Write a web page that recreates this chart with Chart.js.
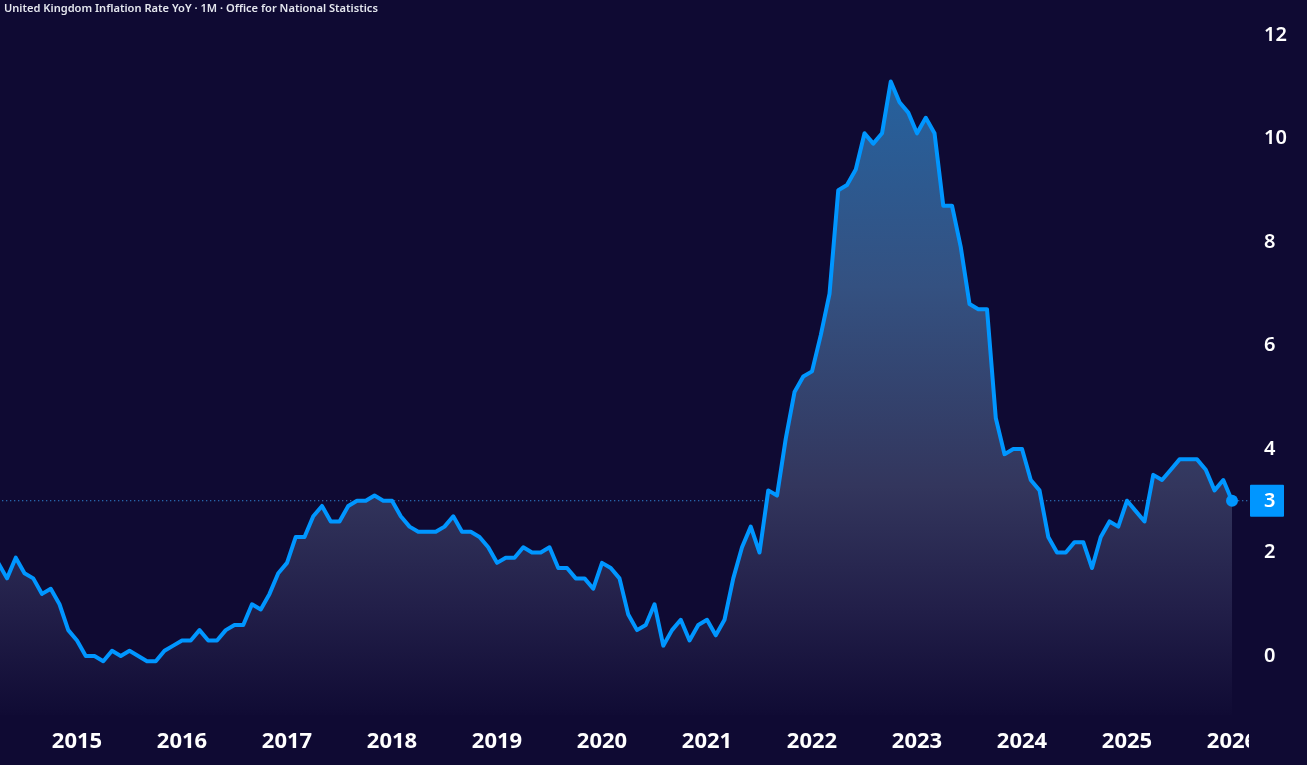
<!DOCTYPE html>
<html>
<head>
<meta charset="utf-8">
<title>United Kingdom Inflation Rate YoY</title>
<script src="https://cdn.jsdelivr.net/npm/chart.js@4"></script>
<style>
  html, body { margin: 0; padding: 0; background: #0f0a33; overflow: hidden; }
  canvas { display: block; }
</style>
</head>
<body>
<canvas id="inflationChart" width="1307" height="765"></canvas>
<script>
const chartTitle = 'United Kingdom Inflation Rate YoY · 1M · Office for National Statistics';

// monthly values, first point is Apr 2014
const values2014 = [1.8, 1.5, 1.9, 1.6, 1.5, 1.2, 1.3, 1.0, 0.5];
const values2015 = [0.3, 0.0, 0.0, -0.1, 0.1, 0.0, 0.1, 0.0, -0.1, -0.1, 0.1, 0.2];
const values2016 = [0.3, 0.3, 0.5, 0.3, 0.3, 0.5, 0.6, 0.6, 1.0, 0.9, 1.2, 1.6];
const values2017 = [1.8, 2.3, 2.3, 2.7, 2.9, 2.6, 2.6, 2.9, 3.0, 3.0, 3.1, 3.0];
const values2018 = [3.0, 2.7, 2.5, 2.4, 2.4, 2.4, 2.5, 2.7, 2.4, 2.4, 2.3, 2.1];
const values2019 = [1.8, 1.9, 1.9, 2.1, 2.0, 2.0, 2.1, 1.7, 1.7, 1.5, 1.5, 1.3];
const values2020 = [1.8, 1.7, 1.5, 0.8, 0.5, 0.6, 1.0, 0.2, 0.5, 0.7, 0.3, 0.6];
const values2021 = [0.7, 0.4, 0.7, 1.5, 2.1, 2.5, 2.0, 3.2, 3.1, 4.2, 5.1, 5.4];
const values2022 = [5.5, 6.2, 7.0, 9.0, 9.1, 9.4, 10.1, 9.9, 10.1, 11.1, 10.7, 10.5];
const values2023 = [10.1, 10.4, 10.1, 8.7, 8.7, 7.9, 6.8, 6.7, 6.7, 4.6, 3.9, 4.0];
const values2024 = [4.0, 3.4, 3.2, 2.3, 2.0, 2.0, 2.2, 2.2, 1.7, 2.3, 2.6, 2.5];
const values2025 = [3.0, 2.8, 2.6, 3.5, 3.4, 3.6, 3.8, 3.8, 3.8, 3.6, 3.2, 3.4];
const values2026 = [3.0];

const seriesValues = [].concat(values2014, values2015, values2016, values2017, values2018, values2019,
    values2020, values2021, values2022, values2023, values2024, values2025, values2026);

const yearLabels = ['2015', '2016', '2017', '2018', '2019', '2020', '2021', '2022', '2023', '2024', '2025', '2026'];
const yTicks = [0, 2, 4, 6, 8, 10, 12];

const bgColor = '#0f0a33';
const lineColor = '#0096ff';
const lastIndex = seriesValues.length - 1;
const lastValue = seriesValues[lastIndex];

const ctx = document.getElementById('inflationChart').getContext('2d');

const areaFill = ctx.createLinearGradient(0, 0, 0, 715);
areaFill.addColorStop(0.1, '#25629f');
areaFill.addColorStop(0.4, '#345181');
areaFill.addColorStop(0.68, '#33365d');
areaFill.addColorStop(0.85, '#221f49');
areaFill.addColorStop(1, '#100b34');

// no label margins around the plot, it runs from the canvas edges
const noPadding = scale => {
    scale.paddingLeft = scale.paddingRight = scale.paddingTop = scale.paddingBottom = 0;
};

// title, cut-off right side of the time axis and the last value badge
const overlayPlugin = {
    id: 'overlay',
    afterDraw(chart) {
        const c = chart.ctx;
        const y = chart.scales.y.getPixelForValue(lastValue);
        c.save();
        c.fillStyle = bgColor;
        c.fillRect(chart.chartArea.right, chart.chartArea.bottom, 60, 50);

        c.fillStyle = lineColor;
        c.beginPath();
        c.roundRect(chart.chartArea.right + 1, y - 16, 34, 32, 1);
        c.fill();

        c.fillStyle = '#ffffff';
        c.font = '600 20px "Noto Sans"';
        c.textAlign = 'left';
        c.textBaseline = 'middle';
        c.fillText(String(lastValue), 1264, y + 1);

        c.fillStyle = '#e4e6ee';
        c.font = '600 11.1px "Noto Sans"';
        c.textBaseline = 'alphabetic';
        c.fillText(chartTitle, 4, 12);
        c.restore();
    }
};

new Chart(ctx, {
    type: 'line',
    data: {
        datasets: [{
            data: seriesValues.map((v, i) => ({ x: i, y: v })),
            borderColor: lineColor,
            borderWidth: 4,
            borderJoinStyle: 'round',
            tension: 0,
            fill: 'start',
            backgroundColor: areaFill,
            pointBackgroundColor: lineColor,
            pointBorderWidth: 0,
            pointRadius: c => c.dataIndex === lastIndex ? 6 : 0
        }, {
            data: [{ x: 0, y: lastValue }, { x: lastIndex + 2, y: lastValue }],
            borderColor: '#3aa6ff',
            borderWidth: 1,
            borderDash: [1, 3],
            pointRadius: 0,
            fill: false
        }]
    },
    options: {
        responsive: false,
        animation: false,
        devicePixelRatio: 1,
        layout: { padding: 0, autoPadding: false },
        plugins: { legend: { display: false }, tooltip: { enabled: false } },
        scales: {
            x: {
                type: 'linear',
                min: 0.2,
                max: 142.94,
                grid: { display: false },
                border: { display: false },
                afterFit: scale => { scale.height = 50; noPadding(scale); },
                afterBuildTicks: scale => {
                    scale.ticks = yearLabels.map((y, k) => ({ value: values2014.length + 12 * k }));
                },
                ticks: {
                    autoSkip: false,
                    maxRotation: 0,
                    padding: 6,
                    color: '#ffffff',
                    font: { family: '"Noto Sans"', size: 22, weight: 700 },
                    callback: value => yearLabels[(value - values2014.length) / 12]
                }
            },
            y: {
                position: 'right',
                min: -1.14,
                max: 12.676,
                grid: { display: false, drawTicks: false },
                border: { display: false },
                afterFit: scale => { scale.width = 58; noPadding(scale); },
                afterBuildTicks: scale => {
                    scale.ticks = yTicks.map(v => ({ value: v }));
                },
                ticks: {
                    padding: 15,
                    crossAlign: 'near',
                    color: '#ffffff',
                    font: { family: '"Noto Sans"', size: 20, weight: 600 }
                }
            }
        }
    },
    plugins: [overlayPlugin]
});
</script>
</body>
</html>
